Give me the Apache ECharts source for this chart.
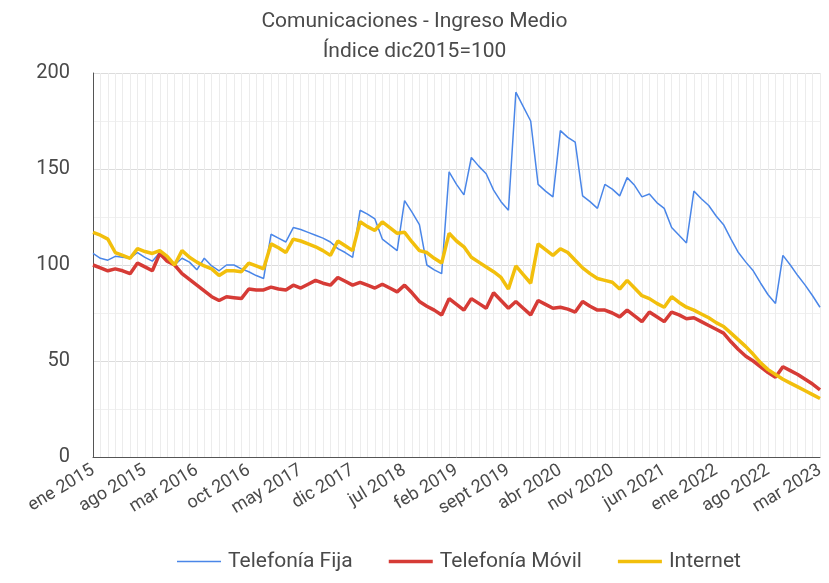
<!DOCTYPE html>
<html>
<head>
<meta charset="utf-8">
<script src="https://cdn.jsdelivr.net/npm/echarts@6/dist/echarts.min.js"></script>
<style>
  html, body { margin: 0; padding: 0; background: #fff; }
  #chart { width: 829px; height: 583px; }
</style>
</head>
<body>
<div id="chart"></div>
<script>
// meses ene 2015 .. mar 2023
const monthNames = ['ene', 'feb', 'mar', 'abr', 'may', 'jun', 'jul', 'ago', 'sept', 'oct', 'nov', 'dic'];
const years = [2015, 2016, 2017, 2018, 2019, 2020, 2021, 2022, 2023];
const months = [];
years.forEach(function (y) {
  monthNames.forEach(function (m, k) {
    if (y === 2023 && k > 2) return;
    months.push(m + ' ' + y);
  });
});

const telefoniaFija = [
  106, 103.5, 102.5, 104.5, 104, 103.5, 106.5, 104, 102, 106.5, 102.5, 100,
  103.5, 101.5, 97.5, 103.5, 99.5, 97, 100, 100, 98, 96.5, 94.5, 93,
  116, 114, 112, 119.5, 118.5, 117, 115.5, 114, 112, 108.5, 106.5, 104,
  128.5, 126.5, 124, 113.5, 110.5, 107.5, 133.5, 127.5, 121, 100, 97.5, 95.5,
  148.5, 142, 136.5, 156, 151.5, 147.5, 139, 133, 128.5, 190, 182.5, 175,
  142, 138.5, 135.5, 170, 166.5, 164, 136, 133, 129.5, 142, 139.5, 136,
  145.5, 141.5, 135.5, 137, 132.5, 129.5, 119.5, 115.5, 111.5, 138.5, 134.5, 131,
  125.5, 121, 113.5, 106.5, 101.5, 97, 90.5, 84.5, 80, 105, 100, 94.5,
  89.5, 84, 78
];

const telefoniaMovil = [
  100, 98.5, 97, 98, 97, 95.5, 101, 99, 97, 106, 102, 100,
  95.5, 92.5, 89.5, 86.5, 83.5, 81.5, 83.5, 83, 82.5, 87.5, 87, 87,
  88.5, 87.5, 87, 89.5, 88, 90, 92, 90.5, 89.5, 93.5, 91.5, 89.5,
  91, 89.5, 88, 90, 88, 86, 89.5, 85.5, 81, 78.5, 76.5, 74,
  82.5, 79.5, 76.5, 82.5, 80, 77.5, 85.5, 81.5, 77.5, 81, 77.5, 74,
  81.5, 79.5, 77.5, 78, 77, 75.5, 81, 78.5, 76.5, 76.5, 75, 73,
  76.5, 73.5, 70.5, 75.5, 73, 70.5, 75.5, 74, 72, 72.5, 70.5, 68.5,
  66.5, 64.5, 60, 56, 52.5, 50, 47, 44, 41.5, 47, 45, 43,
  40.5, 38, 35
];

const internet = [
  117, 115.5, 113.5, 106.5, 105, 103.5, 108.5, 107, 106, 107.5, 104.5, 100,
  107.5, 104, 101.5, 99.5, 98, 94.5, 97, 97, 96.5, 101, 99.5, 98,
  111, 109, 106.5, 113.5, 112.5, 111, 109.5, 107.5, 105, 112.5, 110, 107.5,
  122.5, 120, 118, 122.5, 119.5, 116.5, 117, 112, 107.5, 106.5, 103.5, 101,
  116.5, 112.5, 109.5, 104, 101.5, 99, 96.5, 93.5, 87.5, 99.5, 95, 90.5,
  111, 108, 105, 108.5, 106.5, 102.5, 98.5, 95.5, 93, 92, 91, 87.5,
  92, 88, 84, 82.5, 80, 78, 83.5, 80.5, 78, 76.5, 74.5, 72.5,
  70, 68, 64.5, 61, 57.5, 53.5, 49, 45.5, 43, 40.5, 38.5, 36.5,
  34.5, 32.5, 30.5
];

// iconos de leyenda: una barra fina y una gruesa
const thinIcon = 'path://M0,0M44,6M0,2.3H44V3.7H0Z';
const thickIcon = 'path://M0,0M44,6M0,1.2H44V4.8H0Z';

const chart = echarts.init(document.getElementById('chart'));

const option = {
  backgroundColor: '#fff',
  textStyle: { fontFamily: 'Roboto' },
  title: {
    text: 'Comunicaciones - Ingreso Medio\nÍndice dic2015=100',
    left: 'center',
    top: 2,
    textStyle: {
      fontSize: 21,
      fontWeight: 'normal',
      color: '#4a4a4a',
      lineHeight: 30
    }
  },
  legend: {
    bottom: 6,
    left: 172,
    itemWidth: 44,
    itemHeight: 6,
    itemGap: 36,
    textStyle: { fontSize: 21, color: '#4a4a4a', padding: [0, 0, 0, 2] },
    data: [
      { name: 'Telefonía Fija', icon: thinIcon },
      { name: 'Telefonía Móvil', icon: thickIcon },
      { name: 'Internet', icon: thickIcon }
    ]
  },
  grid: {
    left: 93,
    right: 9,
    top: 73,
    bottom: 126
  },
  xAxis: {
    type: 'category',
    data: months,
    boundaryGap: false,
    axisLine: { lineStyle: { color: '#555' } },
    axisTick: { show: false },
    axisLabel: {
      interval: 6,
      rotate: 31,
      fontSize: 18,
      color: '#4a4a4a',
      margin: 12
    },
    splitLine: {
      show: true,
      interval: 0,
      lineStyle: { color: '#ececec' }
    }
  },
  yAxis: {
    type: 'value',
    min: 0,
    max: 200,
    interval: 50,
    axisLine: { show: true, lineStyle: { color: '#555' } },
    axisTick: { show: false },
    axisLabel: { fontSize: 20, color: '#4a4a4a', margin: 23 },
    splitLine: { lineStyle: { color: '#dcdcdc' } },
    minorTick: { show: false, splitNumber: 2 },
    minorSplitLine: { show: true, lineStyle: { color: '#f0f0f0' } }
  },
  series: [
    {
      name: 'Telefonía Fija',
      type: 'line',
      data: telefoniaFija,
      showSymbol: false,
      symbol: 'none',
      color: '#4a86e8',
      lineStyle: { width: 1.5 }
    },
    {
      name: 'Telefonía Móvil',
      type: 'line',
      data: telefoniaMovil,
      showSymbol: false,
      symbol: 'none',
      color: '#d63b36',
      lineStyle: { width: 3.5 }
    },
    {
      name: 'Internet',
      type: 'line',
      data: internet,
      showSymbol: false,
      symbol: 'none',
      color: '#f2bf0c',
      lineStyle: { width: 3.5 }
    }
  ]
};

chart.setOption(option);
</script>
</body>
</html>
